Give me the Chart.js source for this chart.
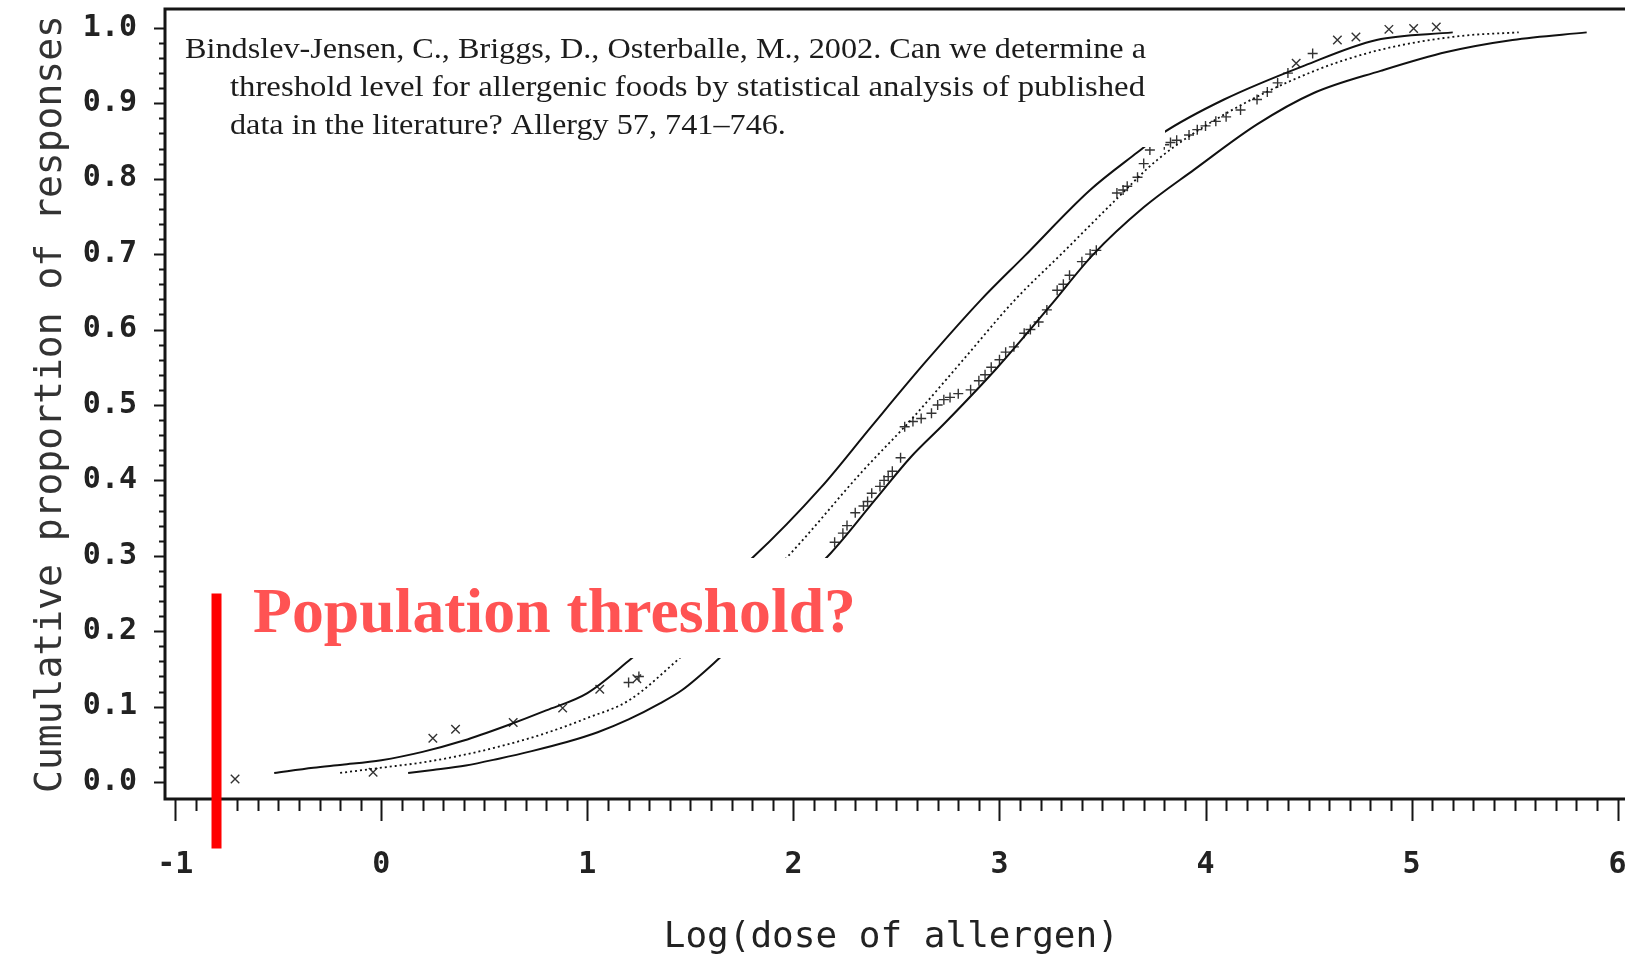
<!DOCTYPE html>
<html>
<head>
<meta charset="utf-8">
<title>Population threshold?</title>
<script src="https://cdn.jsdelivr.net/npm/chart.js@4.4.1/dist/chart.umd.min.js"></script>
<style>
  html, body { margin: 0; padding: 0; background: #fff; overflow: hidden; }
  #grafico { display: block; }
</style>
</head>
<body>
<canvas id="grafico" width="1625" height="955"></canvas>
<script>
// tick labels
const xTicks = [-1, 0, 1, 2, 3, 4, 5, 6];
const yTicks = [0.0, 0.1, 0.2, 0.3, 0.4, 0.5, 0.6, 0.7, 0.8, 0.9, 1.0];

// upper confidence limit (solid)
const upperX = [-0.52, -0.33, -0.19, 0.0, 0.2, 0.4, 0.6, 0.8, 1.0, 1.215, 1.8, 2.135, 2.377, 2.638, 2.909, 3.12, 3.44, 3.67, 3.79, 4.09, 4.48, 4.83, 5.2];
const upperY = [0.012, 0.019, 0.023, 0.029, 0.040, 0.055, 0.074, 0.095, 0.118, 0.164, 0.297, 0.391, 0.471, 0.556, 0.639, 0.697, 0.785, 0.835, 0.860, 0.905, 0.950, 0.984, 0.994];

// fitted curve (dotted)
const fitX = [-0.2, 0.0, 0.2, 0.4, 0.6, 0.8, 1.0, 1.2, 1.43, 1.965, 2.328, 2.57, 2.812, 3.074, 3.3, 3.557, 3.766, 4.09, 4.52, 4.85, 5.23, 5.52];
const fitY = [0.012, 0.019, 0.026, 0.036, 0.049, 0.065, 0.085, 0.108, 0.160, 0.297, 0.410, 0.480, 0.556, 0.639, 0.700, 0.770, 0.825, 0.885, 0.942, 0.971, 0.989, 0.994];

// lower confidence limit (solid)
const lowerX = [0.13, 0.25, 0.41, 0.57, 0.73, 0.9, 1.05, 1.2, 1.35, 1.46, 1.64, 2.183, 2.396, 2.57, 2.735, 2.991, 3.248, 3.45, 3.70, 3.945, 4.25, 4.52, 4.85, 5.17, 5.49, 5.85];
const lowerY = [0.012, 0.016, 0.022, 0.031, 0.041, 0.053, 0.066, 0.083, 0.104, 0.122, 0.164, 0.304, 0.374, 0.431, 0.476, 0.550, 0.632, 0.698, 0.762, 0.812, 0.872, 0.913, 0.943, 0.968, 0.984, 0.994];

// observed responses, "x" symbols
const crossX = [-0.71, -0.04, 0.25, 0.36, 0.64, 0.88, 1.06, 1.24, 4.44, 4.64, 4.73, 4.89, 5.01, 5.12];
const crossY = [0.004, 0.013, 0.058, 0.070, 0.079, 0.098, 0.123, 0.137, 0.953, 0.984, 0.988, 0.998, 0.999, 1.001];

// observed responses, "+" symbols
const plusX = [1.20, 1.25, 2.20, 2.24, 2.26, 2.30, 2.34, 2.36, 2.38, 2.42, 2.44, 2.46, 2.48, 2.52, 2.54, 2.58, 2.62, 2.67, 2.70, 2.73, 2.76, 2.80, 2.86, 2.90, 2.93, 2.96, 3.00, 3.03, 3.07, 3.12, 3.15, 3.19, 3.23, 3.28, 3.31, 3.34, 3.40, 3.44, 3.47, 3.57, 3.60, 3.62, 3.67, 3.70, 3.73, 3.80, 3.83, 3.86, 3.92, 3.96, 4.00, 4.05, 4.10, 4.17, 4.25, 4.30, 4.35, 4.40, 4.52];
const plusY = [0.132, 0.140, 0.318, 0.330, 0.340, 0.357, 0.366, 0.372, 0.383, 0.392, 0.400, 0.405, 0.412, 0.430, 0.471, 0.478, 0.482, 0.489, 0.500, 0.507, 0.510, 0.515, 0.520, 0.532, 0.540, 0.550, 0.560, 0.570, 0.577, 0.595, 0.600, 0.610, 0.626, 0.652, 0.660, 0.672, 0.690, 0.700, 0.705, 0.781, 0.785, 0.790, 0.802, 0.820, 0.838, 0.845, 0.848, 0.851, 0.858, 0.865, 0.870, 0.876, 0.882, 0.891, 0.905, 0.915, 0.927, 0.940, 0.966];

// red marker for the threshold
const thresholdX = [-0.8, -0.8];
const thresholdY = [0.25, -0.088];

const citation = [
  "Bindslev-Jensen, C., Briggs, D., Osterballe, M., 2002. Can we determine a",
  "threshold level for allergenic foods by statistical analysis of published",
  "data in the literature? Allergy 57, 741\u2013746."
];
const question = "Population threshold?";

const toPoints = (xs, ys) => xs.map((x, i) => ({ x: x, y: ys[i] }));

const monoFont = '"DejaVu Sans Mono", monospace';

// axis frame with major and minor tick marks
const frame = {
  id: 'frame',
  beforeDatasetsDraw(chart) {
    const { ctx, chartArea: a, scales: { x, y } } = chart;
    ctx.save();
    ctx.strokeStyle = '#151515';
    ctx.lineWidth = 3;
    ctx.beginPath();
    ctx.moveTo(chart.width, a.top);
    ctx.lineTo(a.left, a.top);
    ctx.lineTo(a.left, a.bottom);
    ctx.lineTo(chart.width, a.bottom);
    ctx.stroke();

    ctx.lineWidth = 2;
    ctx.beginPath();
    for (let i = 0; i <= 50; i++) {
      const py = Math.round(y.getPixelForValue(i * 0.02)) + 0.5;
      const len = i % 5 === 0 ? 11 : 6;
      ctx.moveTo(a.left, py);
      ctx.lineTo(a.left - len, py);
    }
    for (let i = -10; i <= 60; i++) {
      const px = Math.round(x.getPixelForValue(i / 10)) + 0.5;
      const len = i % 10 === 0 ? 22 : 12;
      ctx.moveTo(px, a.bottom);
      ctx.lineTo(px, a.bottom + len);
    }
    ctx.stroke();
    ctx.restore();
  }
};

// citation and question, each on a white patch that hides the curves below
const notes = {
  id: 'notes',
  afterDatasetsDraw(chart) {
    const { ctx } = chart;
    ctx.save();
    ctx.fillStyle = '#ffffff';
    ctx.fillRect(175, 14, 990, 133);
    ctx.fillRect(240, 558, 630, 100);

    ctx.fillStyle = '#1c1c1c';
    ctx.font = '30px "Liberation Serif", serif';
    ctx.textBaseline = 'alphabetic';
    const stretch = 961 / ctx.measureText(citation[0]).width;
    const lines = [
      { x: 185, y: 58, sx: stretch },
      { x: 230, y: 96, sx: 915 / ctx.measureText(citation[1]).width },
      { x: 230, y: 134, sx: stretch }
    ];
    lines.forEach((l, i) => {
      ctx.save();
      ctx.translate(l.x, l.y);
      ctx.scale(l.sx, 1);
      ctx.fillText(citation[i], 0, 0);
      ctx.restore();
    });

    ctx.fillStyle = '#ff5353';
    ctx.font = 'bold 64px "Liberation Serif", serif';
    const qs = 603 / ctx.measureText(question).width;
    ctx.translate(253, 632);
    ctx.scale(qs, 1);
    ctx.fillText(question, 0, 0);
    ctx.restore();
  }
};

const lineStyle = {
  showLine: true,
  borderColor: '#111',
  borderWidth: 2,
  pointRadius: 0,
  cubicInterpolationMode: 'monotone'
};

new Chart(document.getElementById('grafico'), {
  type: 'scatter',
  data: {
    datasets: [
      {
        data: toPoints(thresholdX, thresholdY),
        showLine: true,
        borderColor: '#ff0000',
        borderWidth: 10,
        borderCapStyle: 'butt',
        pointRadius: 0,
        clip: false
      },
      { ...lineStyle, data: toPoints(upperX, upperY) },
      { ...lineStyle, data: toPoints(fitX, fitY), borderDash: [2, 3], borderWidth: 1.8 },
      { ...lineStyle, data: toPoints(lowerX, lowerY) },
      {
        data: toPoints(crossX, crossY),
        pointStyle: 'crossRot',
        pointRadius: 6,
        borderColor: '#333',
        borderWidth: 1.4
      },
      {
        data: toPoints(plusX, plusY),
        pointStyle: 'cross',
        pointRadius: 5,
        borderColor: '#333',
        borderWidth: 1.4
      }
    ]
  },
  options: {
    responsive: false,
    animation: false,
    events: [],
    layout: { padding: { left: 0, top: 9, right: 3.5, bottom: 0 } },
    plugins: {
      legend: { display: false },
      tooltip: { enabled: false }
    },
    scales: {
      x: {
        type: 'linear',
        min: -1.05,
        max: 6,
        grid: { display: false },
        border: { display: false },
        afterBuildTicks: (s) => { s.ticks = xTicks.map(v => ({ value: v })); },
        afterFit: (s) => { s.height = 156; s.paddingLeft = 0; s.paddingRight = 0; },
        ticks: {
          autoSkip: false,
          maxRotation: 0,
          padding: 40,
          color: '#222',
          font: { family: monoFont, size: 30, weight: 'bold' },
          callback: (v) => String(v)
        },
        title: {
          display: true,
          text: 'Log(dose of allergen)',
          color: '#222',
          font: { family: monoFont, size: 36, lineHeight: 1 },
          padding: { top: 0, bottom: -1 }
        }
      },
      y: {
        type: 'linear',
        min: -0.0225,
        max: 1.025,
        grid: { display: false },
        border: { display: false },
        afterBuildTicks: (s) => { s.ticks = yTicks.map(v => ({ value: v })); },
        afterFit: (s) => { s.width = 165; s.paddingTop = 0; s.paddingBottom = 0; },
        ticks: {
          autoSkip: false,
          padding: 20,
          color: '#222',
          font: { family: monoFont, size: 30, weight: 'bold' },
          callback: (v) => v.toFixed(1)
        },
        title: {
          display: true,
          text: 'Cumulative proportion of responses',
          color: '#333',
          font: { family: monoFont, size: 38 },
          padding: { top: 28, bottom: 0 }
        }
      }
    }
  },
  plugins: [frame, notes]
});
</script>
</body>
</html>
